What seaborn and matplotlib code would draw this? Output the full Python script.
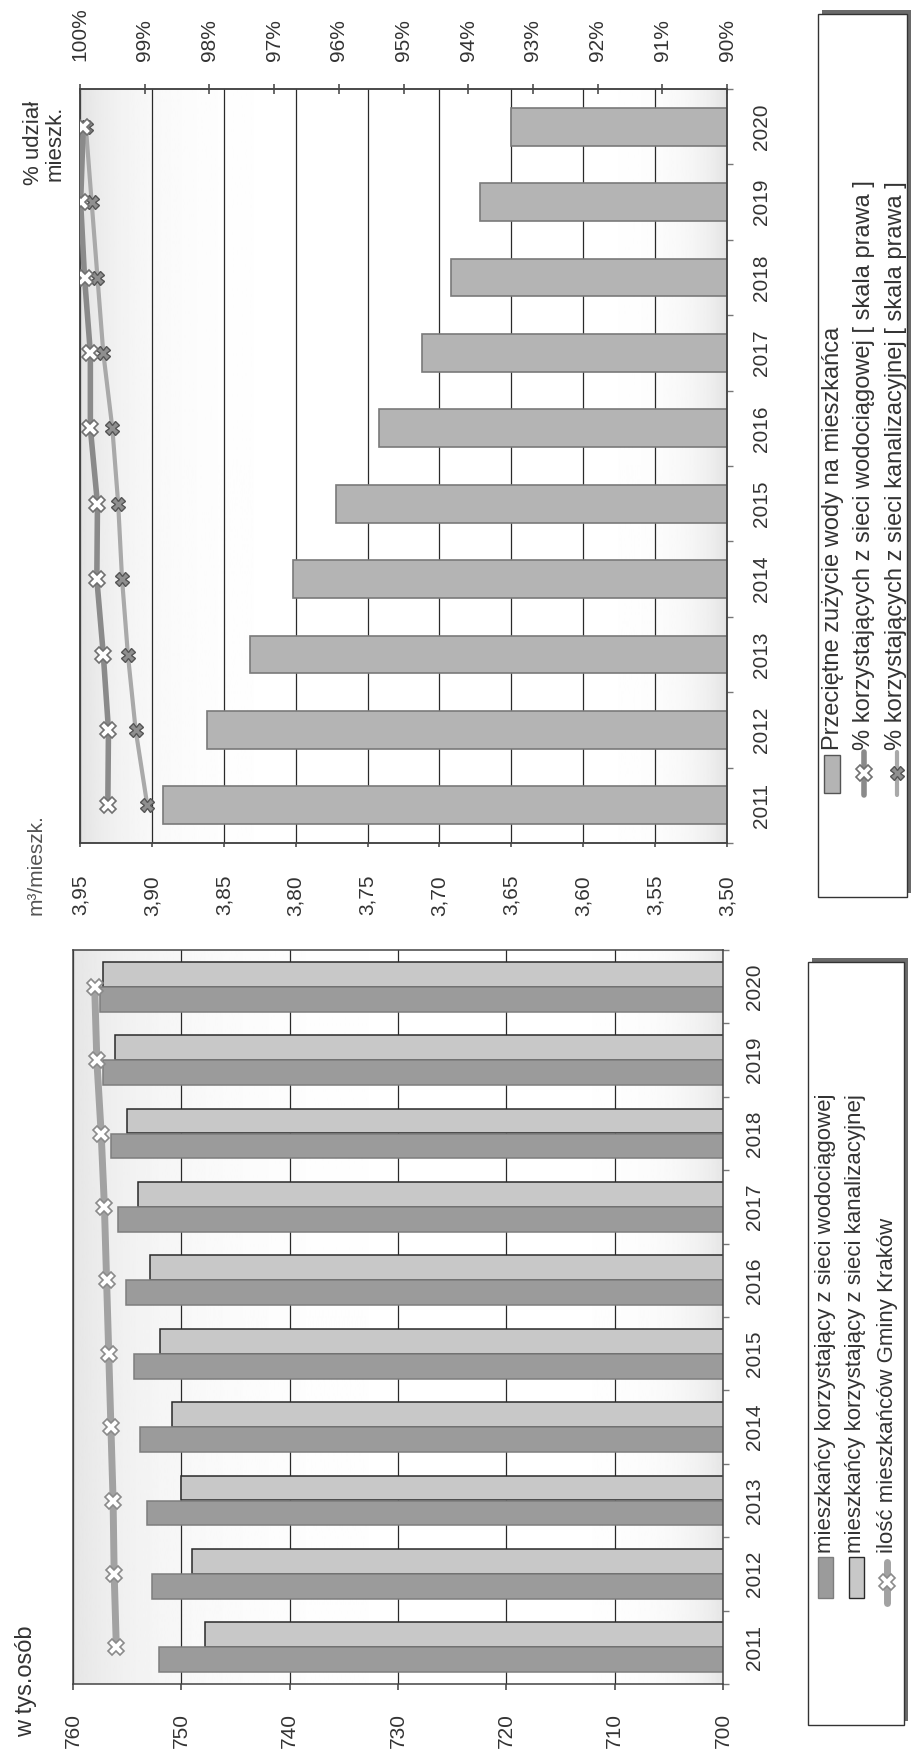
import numpy as np
import pandas as pd
import matplotlib
matplotlib.use("Agg")
import matplotlib.pyplot as plt
import seaborn as sns
from matplotlib.patches import Rectangle
from matplotlib.lines import Line2D

# ---------------- data ----------------
years = ['2011', '2012', '2013', '2014', '2015', '2016', '2017', '2018', '2019', '2020']
zuzycie = [3.892, 3.862, 3.832, 3.802, 3.772, 3.742, 3.712, 3.692, 3.672, 3.650]
pct_wod = [99.57, 99.56, 99.64, 99.74, 99.73, 99.84, 99.84, 99.93, 99.99, 99.95]
pct_kan = [98.96, 99.14, 99.26, 99.35, 99.41, 99.50, 99.64, 99.73, 99.82, 99.91]
mieszk_wod = [752.1, 752.7, 753.2, 753.8, 754.4, 755.1, 755.8, 756.5, 757.2, 757.5]
mieszk_kan = [747.8, 749.0, 750.0, 750.9, 752.0, 752.9, 754.0, 755.0, 756.1, 757.2]
ilosc = [756.0, 756.2, 756.3, 756.5, 756.7, 756.9, 757.1, 757.4, 757.8, 758.0]

ticks_m3 = [3.50, 3.55, 3.60, 3.65, 3.70, 3.75, 3.80, 3.85, 3.90, 3.95]
ticks_pct = [90, 91, 92, 93, 94, 95, 96, 97, 98, 99, 100]
ticks_tys = [700, 710, 720, 730, 740, 750, 760]

lab_m3 = 'm³/mieszk.'
lab_pct = '% udział\nmieszk.'
lab_tys = 'w tys.osób'
leg_top = ['Przeciętne zużycie wody na mieszkańca',
           '% korzystających z sieci wodociągowej [ skala prawa ]',
           '% korzystających z sieci kanalizacyjnej [ skala prawa ]']
leg_bot = ['mieszkańcy korzystający z sieci wodociągowej',
           'mieszkańcy korzystający z sieci kanalizacyjnej',
           'ilość mieszkańców Gminy Kraków']

# ---------------- style ----------------
sns.set_theme(style='white')
plt.rcParams['font.family'] = ['Liberation Sans', 'DejaVu Sans']
TXT = '#333333'
plt.rcParams['text.color'] = TXT
plt.rcParams['xtick.color'] = TXT
plt.rcParams['ytick.color'] = TXT
FS = 15

W, H = 915, 1750
fig = plt.figure(figsize=(W / 100, H / 100), dpi=100)
fig.patch.set_facecolor('white')


def rect_px(x0, y0, x1, y1):
    return [x0 / W, 1 - y1 / H, (x1 - x0) / W, (y1 - y0) / H]


def gradient(rect, lw_, rw_, depth):
    bg = fig.add_axes(rect, zorder=-1)
    t = np.linspace(0, 1, 500)
    shade = 1 - depth * (np.exp(-t / lw_) + np.exp(-(1 - t) / rw_))
    bg.imshow(shade[None, :], aspect='auto', cmap='gray', vmin=0, vmax=1,
              extent=[0, 1, 0, 1])
    bg.axis('off')


years_rev = years[::-1]
ypos = [years_rev.index(y) for y in years]

# ================= upper chart (water use) =================
r1 = rect_px(80, 89, 727, 843)
gradient(r1, 0.08, 0.05, 0.11)
ax1 = fig.add_axes(r1)
ax1.set_facecolor('none')
df1 = pd.DataFrame({'rok': years, 'zuzycie': zuzycie})
sns.barplot(data=df1, x='zuzycie', y='rok', order=years_rev, orient='h',
            color='#b4b4b4', edgecolor='#7a7a7a', linewidth=1.2, width=0.5,
            errorbar=None, saturation=1, ax=ax1, zorder=2)
ax1.set_xlim(3.95, 3.50)
ax1.set_xticks(ticks_m3)
ax1.set_xticklabels([f'{v:.2f}'.replace('.', ',') for v in ticks_m3],
                    rotation=90, ha='center', va='top', fontsize=FS)
ax1.tick_params(axis='x', which='major', bottom=True, length=3, pad=20, color='#555')
ax1.xaxis.grid(True, color='#2a2a2a', lw=0.9)
ax1.yaxis.grid(False)
ax1.set_axisbelow(True)

ax1b = ax1.twiny()
ax1b.set_facecolor('none')
sns.lineplot(x=pct_kan, y=ypos, orient='y', ax=ax1b, color='#a9a9a9', lw=3,
             marker='X', markersize=10, markerfacecolor='#8f8f8f',
             markeredgecolor='#555555', markeredgewidth=1, zorder=4)
sns.lineplot(x=pct_wod, y=ypos, orient='y', ax=ax1b, color='#8a8a8a', lw=4,
             marker='X', markersize=11, markerfacecolor='white',
             markeredgecolor='#707070', markeredgewidth=1.2, zorder=5)
ax1b.set_xlim(100, 90)
ax1b.set_xticks(ticks_pct)
ax1b.set_xticklabels([f'{v}%' for v in ticks_pct], rotation=90, ha='center',
                     va='bottom', fontsize=FS)
ax1b.tick_params(axis='x', top=True, length=7, direction='inout', pad=17, color='#555')
ax1b.set_xlabel('')
ax1b.set_ylabel('')

ax1.set_ylim(9.5, -0.5)
ax1.yaxis.tick_right()
ax1.set_yticks(range(10))
ax1.set_yticklabels(years_rev, rotation=90, ha='left', va='center', fontsize=FS)
ax1.set_yticks(np.arange(-0.5, 10, 1), minor=True)
ax1.tick_params(axis='y', which='major', length=0, pad=18)
ax1.tick_params(axis='y', which='minor', right=True, left=False, length=4,
                direction='out', color='#777')
ax1.set_xlabel('')
ax1.set_ylabel('')
for a in (ax1, ax1b):
    for s in a.spines.values():
        s.set_color('#444444')
        s.set_linewidth(1.1)

# ================= lower chart (inhabitants) =================
r2 = rect_px(73, 950, 723, 1684)
gradient(r2, 0.14, 0.06, 0.10)
ax2 = fig.add_axes(r2)
ax2.set_facecolor('none')
df2 = pd.DataFrame({
    'rok': years * 2,
    'seria': ['kan'] * 10 + ['wod'] * 10,
    'wartosc': mieszk_kan + mieszk_wod,
})
sns.barplot(data=df2, x='wartosc', y='rok', hue='seria', order=years_rev,
            hue_order=['kan', 'wod'], palette={'kan': '#c8c8c8', 'wod': '#9b9b9b'},
            orient='h', width=0.68, errorbar=None, saturation=1, legend=False,
            ax=ax2, zorder=2)
for bar in ax2.containers[0]:
    bar.set_edgecolor('#2a2a2a')
    bar.set_linewidth(1.1)
for bar in ax2.containers[1]:
    bar.set_edgecolor('#7d7d7d')
    bar.set_linewidth(1.1)
sns.lineplot(x=ilosc, y=ypos, orient='y', ax=ax2, color='#a2a2a2', lw=5,
             marker='X', markersize=11, markerfacecolor='white',
             markeredgecolor='#8a8a8a', markeredgewidth=1.2, zorder=5)
ax2.set_xlim(760, 700)
ax2.set_ylim(9.5, -0.5)
ax2.set_xticks(ticks_tys)
ax2.set_xticklabels([str(v) for v in ticks_tys], rotation=90, ha='center',
                    va='top', fontsize=FS)
ax2.tick_params(axis='x', bottom=True, length=4, pad=17, color='#555')
ax2.xaxis.grid(True, color='#2a2a2a', lw=0.9)
ax2.yaxis.grid(False)
ax2.set_axisbelow(True)
ax2.yaxis.tick_right()
ax2.set_yticks(range(10))
ax2.set_yticklabels(years_rev, rotation=90, ha='left', va='center', fontsize=FS)
ax2.set_yticks(np.arange(-0.5, 10, 1), minor=True)
ax2.tick_params(axis='y', which='major', length=0, pad=16)
ax2.tick_params(axis='y', which='minor', right=True, left=False, length=4,
                direction='out', color='#777')
ax2.set_xlabel('')
ax2.set_ylabel('')
for s in ax2.spines.values():
    s.set_color('#444444')
    s.set_linewidth(1.1)

# ================= overlay: axis titles and legends (pixel coords) =================
lg = fig.add_axes([0, 0, 1, 1], zorder=10)
lg.set_xlim(0, W)
lg.set_ylim(H, 0)
lg.axis('off')
lg.patch.set_alpha(0)

lg.text(36, 915, lab_m3, rotation=90, ha='center', va='bottom', fontsize=15,
        color='#555555')
lg.text(44, 143, lab_pct, rotation=90, ha='center', va='center', fontsize=16,
        multialignment='center', linespacing=1.05)
lg.text(26, 1737, lab_tys, rotation=90, ha='center', va='bottom', fontsize=17)


def legend_box(x0, y0, x1, y1):
    lg.add_patch(Rectangle((x0 + 4, y0 - 4), x1 - x0, y1 - y0, facecolor='#6a6a6a',
                           edgecolor='none', zorder=1))
    lg.add_patch(Rectangle((x0, y0), x1 - x0, y1 - y0, facecolor='white',
                           edgecolor='#333333', lw=1.0, zorder=2))


# upper legend
legend_box(818, 14, 907, 897)
lg.add_patch(Rectangle((824, 755), 16, 38, facecolor='#b4b4b4', edgecolor='#555555',
                       lw=1, zorder=3))
lg.add_line(Line2D([864, 864], [752, 795], color='#8a8a8a', lw=4, zorder=3))
lg.add_line(Line2D([864], [773], marker='X', markersize=11, markerfacecolor='white',
                   markeredgecolor='#707070', markeredgewidth=1.2, zorder=4))
lg.add_line(Line2D([897, 897], [752, 795], color='#a9a9a9', lw=3, zorder=3))
lg.add_line(Line2D([897], [773], marker='X', markersize=10, markerfacecolor='#8f8f8f',
                   markeredgecolor='#555555', markeredgewidth=1, zorder=4))
for xx, t in zip([833, 864, 896], leg_top):
    lg.text(xx, 750, t, rotation=90, ha='center', va='bottom', fontsize=17, zorder=5)

# lower legend
legend_box(808, 962, 904, 1725)
lg.add_patch(Rectangle((818, 1557), 15, 41, facecolor='#9b9b9b', edgecolor='#7d7d7d',
                       lw=1, zorder=3))
lg.add_patch(Rectangle((849, 1557), 15, 41, facecolor='#c8c8c8', edgecolor='#2a2a2a',
                       lw=1, zorder=3))
lg.add_line(Line2D([887, 887], [1562, 1603], color='#a2a2a2', lw=5, zorder=3))
lg.add_line(Line2D([887], [1582], marker='X', markersize=11, markerfacecolor='white',
                   markeredgecolor='#8a8a8a', markeredgewidth=1.2, zorder=4))
for xx, t in zip([825, 856, 887], leg_bot):
    lg.text(xx, 1553, t, rotation=90, ha='center', va='bottom', fontsize=16, zorder=5)

fig.savefig('out.png', dpi=100, facecolor='white')
